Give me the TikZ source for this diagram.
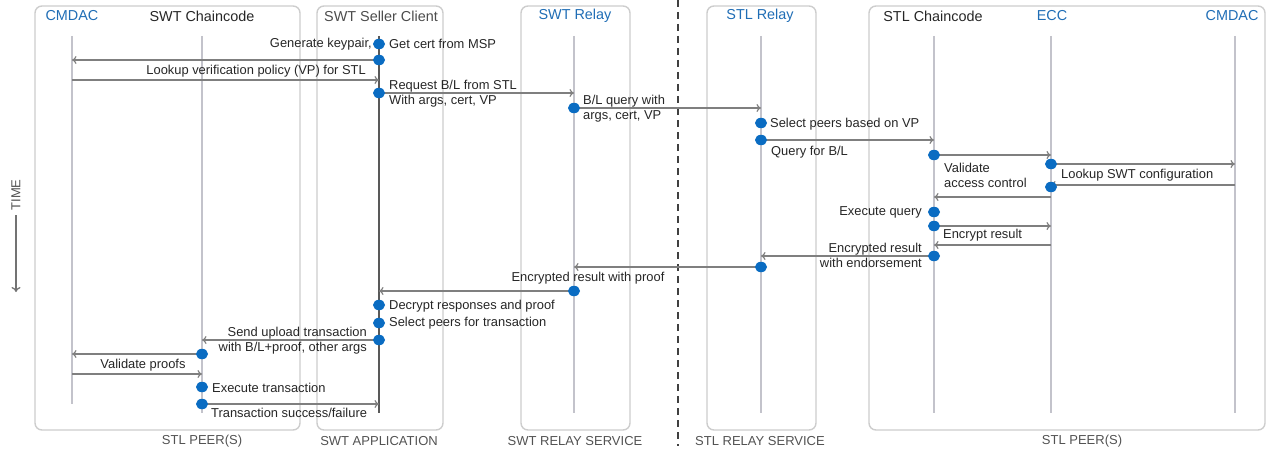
\documentclass[tikz,border=0pt]{standalone}
\usepackage{fontspec}
\setmainfont{Liberation Sans}
\usepackage{tikz}
\usetikzlibrary{calc,positioning,arrows,arrows.meta,shapes}
\definecolor{hdblue}{HTML}{1F6DB5}
\definecolor{dotblue}{HTML}{0A6CC2}
\definecolor{boxgray}{HTML}{CDCDCD}
\definecolor{lifegray}{HTML}{C3C3CB}
\definecolor{msggray}{HTML}{7F7F7F}
\definecolor{txtgray}{HTML}{262626}
\newcommand\msgfont{\fontsize{12.9}{15}\selectfont}
\newcommand\hdfont{\fontsize{14.4}{16}\selectfont}
\newcommand\ftfont{\fontsize{13}{15}\selectfont}

\begin{document}
\begin{tikzpicture}[x=1pt, y=-1pt,
  lbl/.style={inner sep=0pt, text=txtgray, font=\msgfont},
  hd/.style={inner sep=0pt, font=\hdfont},
  ft/.style={inner sep=0pt, text=black!68, font=\ftfont},
  msg/.style={-{To[length=4.5pt,width=8pt]}, draw=msggray, line width=1.2pt},
  life/.style={draw=lifegray, line width=1.5pt},
  box/.style={draw=boxgray, line width=1.4pt, rounded corners=7pt}]
\tikzstyle{dot}=[ellipse, fill=dotblue, minimum width=12pt, minimum height=10.5pt, inner sep=0pt]
\useasboundingbox (0,0) rectangle (1269,452);

\draw[box] (35,6) rectangle (300,430);
\draw[box] (317,6) rectangle (443,430);
\draw[box] (521,6) rectangle (630,430);
\draw[box] (707,6) rectangle (816,430);
\draw[box] (869,6) rectangle (1265,430);
\draw[black!75, line width=1.3pt, dash pattern=on 7pt off 5pt] (678,0) -- (678,446);

\node[hd, text=hdblue] (h1) at (72,16) {CMDAC};
\node[hd, text=txtgray] (h2) at (202,16) {SWT Chaincode};
\node[hd, text=black!70] (h3) at (381,16) {SWT Seller Client};
\node[hd, text=hdblue] (h4) at (575,16) {SWT Relay};
\node[hd, text=hdblue] (h5) at (760,16) {STL Relay};
\node[hd, text=txtgray] (h6) at (933,16) {STL Chaincode};
\node[hd, text=hdblue] (h7) at (1052,16) {ECC};
\node[hd, text=hdblue] (h8) at (1232,16) {CMDAC};

\node[ft] (f1) at (202,441) {STL PEER(S)};
\node[ft] (f2) at (379,441) {SWT APPLICATION};
\node[ft] (f3) at (575,441) {SWT RELAY SERVICE};
\node[ft] (f4) at (760,441) {STL RELAY SERVICE};
\node[ft] (f5) at (1082,441) {STL PEER(S)};

\node[ft, rotate=90] (time) at (16,195) {TIME};
\coordinate (t0) at (16,215);
\coordinate (t1) at (16,292);
\draw[-{To[length=5pt,width=9pt]}, draw=black!55, line width=1.3pt] (t0) -- (t1);

\foreach \n/\x in {cmdacA/72, swtcc/202, client/379, swtrelay/574, stlrelay/761, stlcc/934, ecc/1051, cmdacB/1235}
  \coordinate (\n) at (\x,36);
\foreach \n/\b in {cmdacA/404, swtcc/413, swtrelay/413, stlrelay/413, stlcc/413, ecc/413, cmdacB/413}
  \draw[life] (\n) -- (\n |- 0,\b);
\draw[draw=black!65, line width=1.5pt] (client) -- (client |- 0,413);

\foreach \i/\l/\y in {1/client/44, 2/client/60, 3/client/93, 4/swtrelay/108, 5/stlrelay/123, 6/stlrelay/140, 7/stlcc/155, 8/ecc/164, 9/ecc/187, 10/stlcc/212, 11/stlcc/226, 12/stlcc/256, 13/stlrelay/267, 14/swtrelay/291, 15/client/305, 16/client/323, 17/client/340, 18/swtcc/354, 19/swtcc/387, 20/swtcc/404}
  \coordinate (p\i) at (\l |- 0,\y);

\foreach \i/\t in {2/cmdacA, 3/swtrelay, 4/stlrelay, 6/stlcc, 7/ecc, 8/cmdacB, 11/ecc, 12/stlrelay, 13/swtrelay, 14/client, 17/swtcc, 18/cmdacA, 20/client}
  \draw[msg] (p\i) -- (p\i -| \t);
\foreach \i/\f/\t/\y in {1/cmdacA/client/80, 2/cmdacB/ecc/185, 3/ecc/stlcc/197, 4/ecc/stlcc/245, 5/cmdacA/swtcc/374}{
  \coordinate (r\i) at (\f |- 0,\y);
  \draw[msg] (r\i) -- (r\i -| \t);
}

\foreach \i in {1,...,20}
  \node[dot] (d\i) at (p\i) {};

\node[lbl, anchor=east] (l1) at (372,44) {Generate keypair,};
\node[lbl, anchor=west] (l2) at (389,44) {Get cert from MSP};
\node[lbl, anchor=east] (l3) at (366,71) {Lookup verification policy (VP) for STL};
\node[lbl, anchor=west, align=left] (l4) at (389,93.5) {Request B/L from STL\\With args, cert, VP};
\node[lbl, anchor=west, align=left] (l5) at (583,108.5) {B/L query with\\args, cert, VP};
\node[lbl, anchor=west] (l6) at (770,124) {Select peers based on VP};
\node[lbl, anchor=west] (l7) at (771,152) {Query for B/L};
\node[lbl, anchor=west, align=left] (l8) at (944,175.5) {Validate\\access control};
\node[lbl, anchor=west] (l9) at (1061,175) {Lookup SWT configuration};
\node[lbl, anchor=east] (l10) at (922,212) {Execute query};
\node[lbl, anchor=west] (l11) at (943,235) {Encrypt result};
\node[lbl, anchor=east, align=right] (l12) at (922,255.5) {Encrypted result\\with endorsement};
\node[lbl] (l13) at (588,278) {Encrypted result with proof};
\node[lbl, anchor=west] (l14) at (389,306) {Decrypt responses and proof};
\node[lbl, anchor=west] (l15) at (389,323) {Select peers for transaction};
\node[lbl, anchor=east, align=right] (l16) at (367,341) {Send upload transaction\\with B/L+proof, other args};
\node[lbl] (l17) at (143,365) {Validate proofs};
\node[lbl, anchor=west] (l18) at (212,388) {Execute transaction};
\node[lbl, anchor=west] (l19) at (211,413) {Transaction success/failure};
\end{tikzpicture}
\end{document}
